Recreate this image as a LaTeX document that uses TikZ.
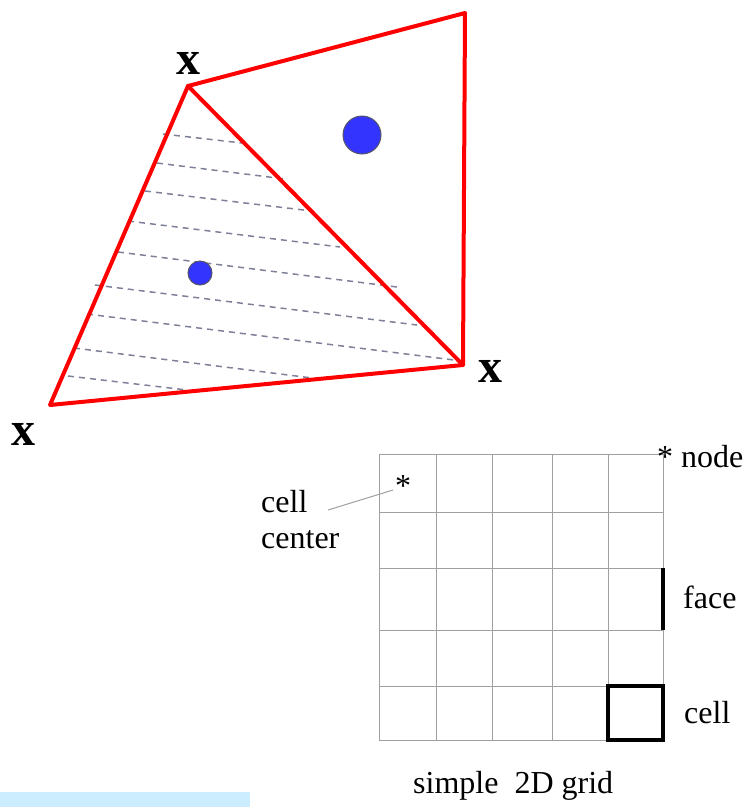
\documentclass[tikz,border=0pt]{standalone}
\usepackage{fontspec}
\setmainfont{Liberation Serif}
\definecolor{hatchgray}{HTML}{7E8098}
\definecolor{gridgray}{HTML}{A0A0A0}
\definecolor{dotblue}{HTML}{3434FF}
\definecolor{dotedge}{HTML}{555566}
\definecolor{barblue}{HTML}{CCECFF}
\begin{document}
\begin{tikzpicture}[x=1pt,y=-1pt,
  edge/.style={draw=red, line width=4pt, line join=round, line cap=round},
  hatch/.style={draw=hatchgray, line width=1.5pt, dash pattern=on 6pt off 5pt},
  gridline/.style={draw=gridgray, line width=1pt},
  boldline/.style={draw=black, line width=3.2pt},
  dot/.style={circle, fill=dotblue, draw=dotedge, line width=1pt, inner sep=0pt},
  vlabel/.style={font=\fontsize{48}{48}\selectfont\bfseries, inner sep=0pt, anchor=base},
  txt/.style={font=\fontsize{32}{36}\selectfont, inner sep=0pt, anchor=base west},
  star/.style={font=\fontsize{32}{36}\selectfont, inner sep=0pt, anchor=base}]
\useasboundingbox (0,0) rectangle (751,807);
\fill[barblue] (0,792) rectangle (250,807);

% vertices
\coordinate (A) at (188,86);
\coordinate (B) at (465,13);
\coordinate (C) at (463,365);
\coordinate (D) at (50,405);

% hatching
\draw[hatch] (163,134) -- (242,143);
\draw[hatch] (157,163) -- (285,179);
\draw[hatch] (145,191) -- (312,211);
\draw[hatch] (128,221) -- (340,247);
\draw[hatch] (118,252) -- (397,287);
\draw[hatch] (95,285) -- (417,325);
\draw[hatch] (87,314) -- (462,361);
\draw[hatch] (74,348) -- (312,378);
\draw[hatch] (68,376) -- (187,390);

% cell centres
\node[dot, minimum size=38pt] (bigdot) at (362,135) {};
\node[dot, minimum size=24pt] (smalldot) at (200,273) {};

% red cells
\draw[edge] (A) -- (B) -- (C) -- (D) -- cycle;
\draw[edge] (A) -- (C);

% vertex labels
\node[vlabel] (xA) at (188,74) {x};
\node[vlabel] (xC) at (490,382) {x};
\node[vlabel] (xD) at (24,445) {x};

% grid
\foreach \gx in {379,436,492,552,608,663}
  \draw[gridline] (\gx,454) -- (\gx,740);
\foreach \gy in {454,512,568,630,686,740}
  \draw[gridline] (379,\gy) -- (663,\gy);

% face and cell
\draw[boldline] (663,568) -- (663,630);
\draw[boldline] (608,686) rectangle (663,740);

% labels
\node[txt] (nodelbl) at (657,467) {* node};
\node[star] (cstar) at (403,496) {*};
\node[txt] (celllbl) at (261,512) {cell};
\node[txt] (centerlbl) at (261,548) {center};
\coordinate (leadA) at (328,510);
\coordinate (leadB) at (393,490);
\draw[gridgray, line width=1pt] (leadA) -- (leadB);
\node[txt] (facelbl) at (683,608) {face};
\node[txt] (cellright) at (684,723) {cell};
\node[txt] (caption) at (413,793) {simple\ \ 2D grid};
\end{tikzpicture}
\end{document}
